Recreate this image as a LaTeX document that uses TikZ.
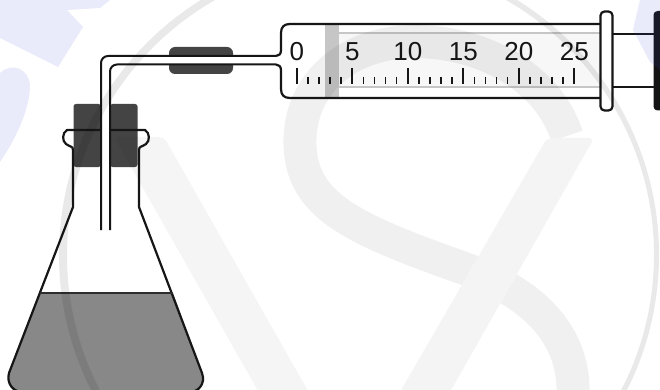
\documentclass[tikz,border=0pt]{standalone}
\usepackage{fontspec}
\setmainfont{Liberation Sans}
\definecolor{ink}{HTML}{161616}
\definecolor{rubber}{HTML}{444444}
\definecolor{liquid}{HTML}{888888}
\definecolor{headgray}{HTML}{C6C6C6}
\definecolor{markblue}{RGB}{60,70,215}
\definecolor{legshade}{HTML}{F4F4F4}
\tikzset{
  glass/.style={draw=ink,line width=2.2pt,line join=round},
  tubeline/.style={draw=ink,line width=2pt,rounded corners=7pt},
  rubberpart/.style={fill=rubber,draw=none,rounded corners=2.5pt},
  scalelabel/.style={inner sep=0pt,anchor=base,text=ink,font=\fontsize{26}{26}\selectfont},
  majortick/.style={draw=ink,line width=1.9pt},
  minortick/.style={draw=ink,line width=1.5pt},
  markband/.style={draw=black,draw opacity=.06},
  markring/.style={fill=black,fill opacity=.085,even odd rule,draw=none},
  markfill/.style={fill=black,fill opacity=.04,draw=none},
  markpatch/.style={fill=markblue,fill opacity=.11,draw=none}
}
\begin{document}
\begin{tikzpicture}[x=1pt,y=-1pt]
\useasboundingbox (0,0) rectangle (660,390);
\clip (0,0) rectangle (660,390);
\fill[white] (0,0) rectangle (660,390);
% flask liquid
\fill[liquid] (40,293) -- (173,293) -- (202,373) .. controls (206,384) and (198,392) .. (190,392) -- (22,392) .. controls (14,392) and (6,384) .. (9,373) -- cycle;
% stoppers
\fill[rubberpart] (73.5,104) rectangle (101,167);
\fill[rubberpart] (110,104) rectangle (137.5,167);
% flask outline
\draw[glass] (73,207) -- (73,150) .. controls (73,146) and (70,147) .. (66,144) .. controls (62,141) and (62,133) .. (67,130) -- (145,130) .. controls (150,133) and (150,141) .. (146,144) .. controls (142,147) and (139,146) .. (139,150) -- (139,207) -- (202,373) .. controls (206,384) and (198,392) .. (190,392) -- (22,392) .. controls (14,392) and (6,384) .. (9,373) -- (73,207);
\draw[draw=ink!90,line width=2.2pt] (40,293) -- (173,293);
% rubber connector
\fill[rubber,rounded corners=6pt] (169,47) rectangle (233,74);
% glass tube
\fill[white,rounded corners=7pt] (101,230) -- (101,56) -- (280,56) -- (280,64.5) -- (110,64.5) -- (110,230) -- cycle;
\draw[tubeline] (101,230) -- (101,56) -- (276,56);
\draw[tubeline] (110,230) -- (110,64.5) -- (276,64.5);
% plunger rods and end
\draw[draw=ink,line width=1.8pt] (612,34) -- (656,34);
\draw[draw=ink,line width=1.8pt] (612,87) -- (656,87);
\fill[black!92,rounded corners=4pt] (653.5,11) rectangle (672,110.5);
% barrel
\fill[white!97!black] (339,33) rectangle (600,87);
\draw[draw=headgray,line width=2pt] (339,33.5) -- (600,33.5);
\draw[draw=headgray,line width=2pt] (339,87) -- (600,87);
\fill[headgray] (325,24.5) rectangle (339,97.5);
\draw[glass] (276,56) .. controls (279,56) and (281,54) .. (281,50) -- (281,33) .. controls (281,27) and (284,24) .. (290,24) -- (602,24);
\draw[glass] (276,64.5) .. controls (279,64.5) and (281,66.5) .. (281,70.5) -- (281,89) .. controls (281,95) and (284,98) .. (290,98) -- (602,98);
% flange
\draw[glass,fill=white,rounded corners=4pt] (600.5,11.5) rectangle (612.5,110.5);
% scale
\foreach \n/\lab/\xx in {a/0/296.8,b/5/352.4,c/10/407.9,d/15/463.4,e/20/518.9,f/25/574.4}{
  \node[scalelabel] (lab\n) at (\xx,61) {\lab};
  \draw[majortick] (\xx,68) -- (\xx,84);
}
\foreach \xb in {296.8,352.3,407.8,463.3,518.8}{
  \foreach \k in {1,2,3,4}{
    \draw[minortick] ({\xb+11.1*\k},77) -- ({\xb+11.1*\k},84);
  }
}
% watermark
\fill[markpatch] (0,0) -- (110,0) -- (100,8) -- (67,10) -- (83,27) -- (58,67) -- (0,38) -- cycle;
\fill[markpatch] (0,73) .. controls (12,62) and (28,68) .. (30,85) .. controls (30,110) and (15,140) .. (0,162) -- cycle;
\fill[markpatch] (640,0) -- (660,0) -- (660,70) -- (650,62) -- (633,30) -- cycle;
\fill[markring] (359,255) circle [radius=300] (360.5,255) circle [radius=293.5];
\draw[markband,line width=33pt,line join=round] (567,136) .. controls (545,70) and (470,38) .. (405,42) .. controls (340,46) and (298,90) .. (300,145) .. controls (302,205) and (350,228) .. (463,268) .. controls (540,295) and (575,340) .. (573,395);
\fill[white,rounded corners=5pt] (547,138) -- (594,138) -- (450,392) -- (400,392) -- cycle;
\fill[legshade,rounded corners=5pt] (547,138) -- (594,138) -- (450,392) -- (400,392) -- cycle;
\fill[markfill,rounded corners=5pt] (114,137) -- (164,137) -- (316,405) -- (266,405) -- cycle;
\end{tikzpicture}
\end{document}
